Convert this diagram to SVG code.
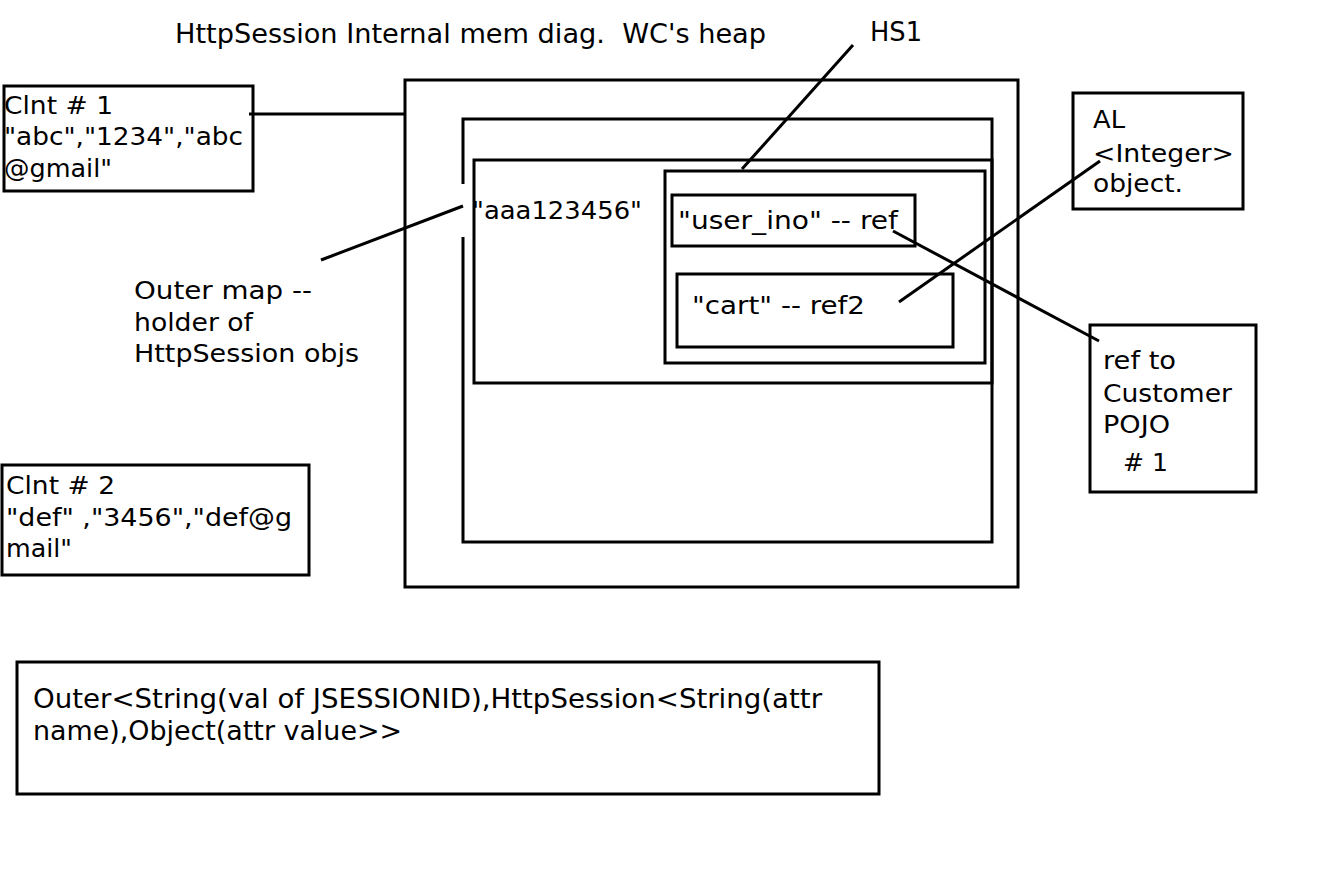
<svg xmlns="http://www.w3.org/2000/svg" width="1344" height="872" viewBox="0 0 1344 872">
<style>
.b{fill:none;stroke:#000;stroke-width:3}
.l{stroke:#000;stroke-width:3;fill:none}
.v{font-family:"DejaVu Sans",Verdana,sans-serif;font-size:25.5px;fill:#000}
.t{font-family:"DejaVu Sans Condensed","DejaVu Sans",sans-serif;font-stretch:condensed;font-size:26px;fill:#000;white-space:pre}
</style>
<rect width="1344" height="872" fill="#fff"/>
<g id="title"><text class="t" x="175" y="43" xml:space="preserve" textLength="591" lengthAdjust="spacingAndGlyphs">HttpSession Internal mem diag.  WC's heap</text></g>
<g id="hs1-label"><text class="t" x="870" y="41" textLength="52" lengthAdjust="spacingAndGlyphs">HS1</text></g>
<g id="heap"><rect class="b" x="405" y="80" width="613" height="507"/></g>
<g id="outer-map"><rect class="b" x="463" y="119" width="529" height="423"/><rect x="460" y="184" width="6" height="53" fill="#fff"/></g>
<g id="entry"><rect class="b" x="474" y="160" width="518" height="223"/>
<text class="v" x="472" y="219" textLength="170" lengthAdjust="spacingAndGlyphs">"aaa123456"</text></g>
<g id="hs1"><rect class="b" x="665" y="171" width="320" height="192"/></g>
<g id="user-ino"><rect class="b" x="672" y="195" width="243" height="51"/>
<text class="v" x="678" y="229" textLength="220" lengthAdjust="spacingAndGlyphs">"user_ino" -- ref</text></g>
<g id="cart"><rect class="b" x="677" y="274" width="276" height="73"/>
<text class="v" x="692" y="314" textLength="173" lengthAdjust="spacingAndGlyphs">"cart" -- ref2</text></g>
<g id="clnt1"><rect class="b" x="4" y="86" width="249" height="105"/>
<text class="v" x="4" y="114" textLength="109" lengthAdjust="spacingAndGlyphs">Clnt # 1</text>
<text class="v" x="4" y="145" textLength="239" lengthAdjust="spacingAndGlyphs">"abc","1234","abc</text>
<text class="v" x="4" y="177" textLength="108" lengthAdjust="spacingAndGlyphs">@gmail"</text></g>
<g id="clnt2"><rect class="b" x="2" y="465" width="307" height="110"/>
<text class="v" x="6" y="494" textLength="109" lengthAdjust="spacingAndGlyphs">Clnt # 2</text>
<text class="v" x="6" y="526" textLength="286" lengthAdjust="spacingAndGlyphs">"def" ,"3456","def@g</text>
<text class="v" x="6" y="557" textLength="66" lengthAdjust="spacingAndGlyphs">mail"</text></g>
<g id="outer-map-label">
<text class="v" x="134" y="299" textLength="178" lengthAdjust="spacingAndGlyphs">Outer map --</text>
<text class="v" x="134" y="331" textLength="119" lengthAdjust="spacingAndGlyphs">holder of</text>
<text class="v" x="134" y="362" textLength="225" lengthAdjust="spacingAndGlyphs">HttpSession objs</text></g>
<g id="al"><rect class="b" x="1073" y="93" width="170" height="116"/>
<text class="v" x="1093" y="128" textLength="32" lengthAdjust="spacingAndGlyphs">AL</text>
<text class="v" x="1093" y="162" textLength="141" lengthAdjust="spacingAndGlyphs">&lt;Integer&gt;</text>
<text class="v" x="1093" y="192" textLength="90" lengthAdjust="spacingAndGlyphs">object.</text></g>
<g id="customer"><rect class="b" x="1090" y="325" width="166" height="167"/>
<text class="v" x="1103" y="369" textLength="73" lengthAdjust="spacingAndGlyphs">ref to</text>
<text class="v" x="1103" y="402" textLength="129" lengthAdjust="spacingAndGlyphs">Customer</text>
<text class="v" x="1103" y="433" textLength="67" lengthAdjust="spacingAndGlyphs">POJO</text>
<text class="v" x="1123" y="471" textLength="45" lengthAdjust="spacingAndGlyphs"># 1</text></g>
<g id="legend"><rect class="b" x="17" y="662" width="862" height="132"/>
<text class="t" x="33" y="708" textLength="789" lengthAdjust="spacingAndGlyphs">Outer&lt;String(val of JSESSIONID),HttpSession&lt;String(attr</text>
<text class="t" x="33" y="740" textLength="369" lengthAdjust="spacingAndGlyphs">name),Object(attr value&gt;&gt;</text></g>
<g id="connectors">
<line class="l" x1="249" y1="114" x2="405" y2="114"/>
<line class="l" x1="321" y1="260" x2="463" y2="206"/>
<line class="l" x1="853" y1="45" x2="742" y2="169"/>
<line class="l" x1="893" y1="231" x2="1099" y2="341"/>
<line class="l" x1="899" y1="302" x2="1100" y2="161"/>
</g>
</svg>
